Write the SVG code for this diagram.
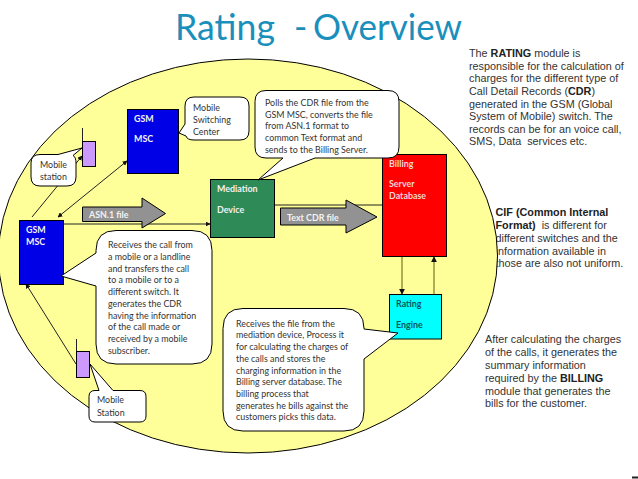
<svg xmlns="http://www.w3.org/2000/svg" width="638" height="479" viewBox="0 0 638 479">
<style>
text{font-family:Lato,"Noto Sans",sans-serif;font-size:8.9px;fill:#333}
.w{fill:#f2f2f2;font-weight:700}
.side text,.side{font-family:"Liberation Sans",Arial,sans-serif;font-size:10.8px;fill:#333}
.b{font-weight:700;fill:#222}
.box{stroke:#000;stroke-width:1}
.call{fill:#fff;stroke:#000;stroke-width:1;stroke-linejoin:round}
.c{fill:none;stroke:#222;stroke-width:1}
.big{fill:#929292;stroke:#000;stroke-width:1}
.t{font-size:36px;fill:#1b8fbb}
</style>
<defs>
<marker id="a" viewBox="0 0 8 8" refX="7" refY="4" markerWidth="5" markerHeight="5" orient="auto-start-reverse"><path d="M0 0L8 4L0 8Z" fill="#111"/></marker>
</defs>
<rect width="638" height="479" fill="#fff"/>
<g id="title"><text class="t" x="175" y="40" textLength="100" lengthAdjust="spacingAndGlyphs">Rating</text><text class="t" x="294" y="40">-</text><text class="t" x="313" y="40" textLength="149" lengthAdjust="spacingAndGlyphs">Overview</text></g>
<g class="side">
<text x="469" y="57">The <tspan class="b">RATING</tspan> module is</text>
<text x="469" y="69.700">responsible for the calculation of</text>
<text x="469" y="82.400">charges for the different type of</text>
<text x="469" y="95">Call Detail Records (<tspan class="b">CDR</tspan>)</text>
<text x="469" y="107.700">generated in the GSM (Global</text>
<text x="469" y="120.400">System of Mobile) switch. The</text>
<text x="469" y="133">records can be for an voice call,</text>
<text x="469" y="145" xml:space="preserve">SMS, Data  services etc.</text>
<text x="495.500" y="216"><tspan class="b">CIF (Common Internal</tspan></text>
<text x="495.500" y="228.500" xml:space="preserve"><tspan class="b">Format)</tspan>  is different for</text>
<text x="495.500" y="241.500">different switches and the</text>
<text x="495.500" y="254.500">information available in</text>
<text x="495.500" y="267">those are also not uniform.</text>
<text x="485" y="343">After calculating the charges</text>
<text x="485" y="356">of the calls, it generates the</text>
<text x="485" y="369">summary information</text>
<text x="485" y="382">required by the <tspan class="b">BILLING</tspan></text>
<text x="485" y="394.500">module that generates the</text>
<text x="485" y="407">bills for the customer.</text>
</g>
<rect x="632" y="476.500" width="6" height="2" fill="#222"/>
<ellipse id="background" cx="248" cy="256" rx="249.500" ry="197" fill="#ffff99" stroke="#000" stroke-width="1"/>
<g id="connectors">
<path class="c" d="M32 217L82 156" marker-end="url(#a)"/>
<path class="c" d="M58 217L127 161" marker-start="url(#a)" marker-end="url(#a)"/>
<path class="c" d="M63 224H210" marker-end="url(#a)"/>
<path class="c" d="M275 205H388" marker-end="url(#a)"/>
<path class="c" d="M402 257V294" marker-end="url(#a)" style="stroke:#77772a;stroke-width:1.200"/>
<path class="c" d="M434 294V257" marker-end="url(#a)" style="stroke:#77772a;stroke-width:1.200"/>
<path class="c" d="M76 364L26 284" marker-end="url(#a)"/>
</g>
<g id="gsm-msc-top"><rect class="box" x="127.500" y="109.500" width="51" height="64" fill="#0000e6"/><text class="w" x="134" y="122">GSM</text><text class="w" x="134" y="142">MSC</text></g>
<g id="gsm-msc-left"><rect class="box" x="19.500" y="220.500" width="44" height="64" fill="#0000e6"/><text class="w" x="26" y="233">GSM</text><text class="w" x="26" y="245">MSC</text></g>
<g id="mobile-top"><path class="c" d="M82.500 128V141"/><rect class="box" x="82.500" y="141.500" width="13" height="25" fill="#cc99ff"/></g>
<g id="mobile-bottom"><path class="c" d="M76.500 339V351"/><rect class="box" x="76.500" y="351.500" width="13" height="26" fill="#cc99ff"/></g>
<g id="asn-arrow"><path class="big" d="M82.500 207H142V198L165.500 213.500L142 228V221.500H82.500Z"/><text class="w" x="89" y="218">ASN.1 file</text></g>
<g id="mediation"><rect class="box" x="210.500" y="179.500" width="64" height="58" fill="#2e8b57"/><text class="w" x="217" y="192">Mediation</text><text class="w" x="217" y="213">Device</text></g>
<g id="text-cdr-arrow"><path class="big" d="M280.500 208H346V200L377 217L346 233V225H280.500Z"/><text class="w" x="287" y="221">Text CDR file</text></g>
<g id="billing"><rect class="box" x="382.500" y="154.500" width="64" height="102" fill="#ff0000"/><text class="w" x="389" y="167" style="fill:#f5d5d5">Billing</text><text class="w" x="389" y="187" style="fill:#f5d5d5">Server</text><text class="w" x="389" y="199" style="fill:#f5d5d5">Database</text></g>
<g id="rating"><rect class="box" x="389.500" y="294.500" width="52" height="44.500" fill="#00ffff"/><text class="w" x="396" y="307" style="fill:#06575c">Rating</text><text class="w" x="396" y="328" style="fill:#06575c">Engine</text></g>
<g id="callout-mobile-station-top"><path class="call" d="M40 154.500H58L82 148L73 155.500Q76 157 76 163V177Q76 186 67 186H40Q31 186 31 177V163Q31 154.500 40 154.500Z"/><text x="40" y="168">Mobile</text><text x="40" y="180">station</text></g>
<g id="callout-msc"><path class="call" d="M194 97H240Q249 97 249 106V131Q249 140 240 140H194Q187 140 186 136L179 133L185 124V106Q185 97 194 97Z"/><text x="193" y="111">Mobile</text><text x="193" y="123">Switching</text><text x="193" y="135">Center</text></g>
<g id="callout-polls"><path class="call" d="M266 90.500H388Q399 90.500 399 101.500V147Q399 158 388 158H315L258 180L283 158H266Q255 158 255 147V101.500Q255 90.500 266 90.500Z"/><text x="265" y="106">Polls the CDR file from the</text><text x="265" y="117.500">GSM MSC, converts the file</text><text x="265" y="129">from ASN.1 format to</text><text x="265" y="141">common Text format and</text><text x="265" y="152.500">sends to the Billing Server.</text></g>
<g id="callout-receives-call"><path class="call" d="M116 230.500H192Q212 230.500 212 250.500V344Q212 364 192 364H116Q96 364 96 344V286L61 276L96 253V250.500Q96 230.500 116 230.500Z"/><text x="108" y="248">Receives the call from</text><text x="108" y="260">a mobile or a landline</text><text x="108" y="272">and transfers the call</text><text x="108" y="283">to a mobile or to a</text><text x="108" y="295">different switch. It</text><text x="108" y="307">generates the CDR</text><text x="108" y="318.500">having the information</text><text x="108" y="330">of the call made or</text><text x="108" y="342">received by a mobile</text><text x="108" y="353.500">subscriber.</text></g>
<g id="callout-mobile-station-bottom"><path class="call" d="M95 390.500H99L90 364L113 390.500H140Q146 390.500 146 396.500V416Q146 422 140 422H95Q89 422 89 416V396.500Q89 390.500 95 390.500Z"/><text x="97" y="403">Mobile</text><text x="97" y="416">Station</text></g>
<g id="callout-receives-file"><path class="call" d="M243 308.500H344Q364 308.500 364 328.500V329L398 333L364 359V411Q364 431 344 431H243Q223 431 223 411V328.500Q223 308.500 243 308.500Z"/><text x="236" y="327">Receives the file from the</text><text x="236" y="338">mediation device, Process it</text><text x="236" y="350">for calculating the charges of</text><text x="236" y="362">the calls and stores the</text><text x="236" y="373.500">charging information in the</text><text x="236" y="385">Billing server database. The</text><text x="236" y="397">billing process that</text><text x="236" y="408.500">generates he bills against the</text><text x="236" y="420">customers picks this data.</text></g>
</svg>
